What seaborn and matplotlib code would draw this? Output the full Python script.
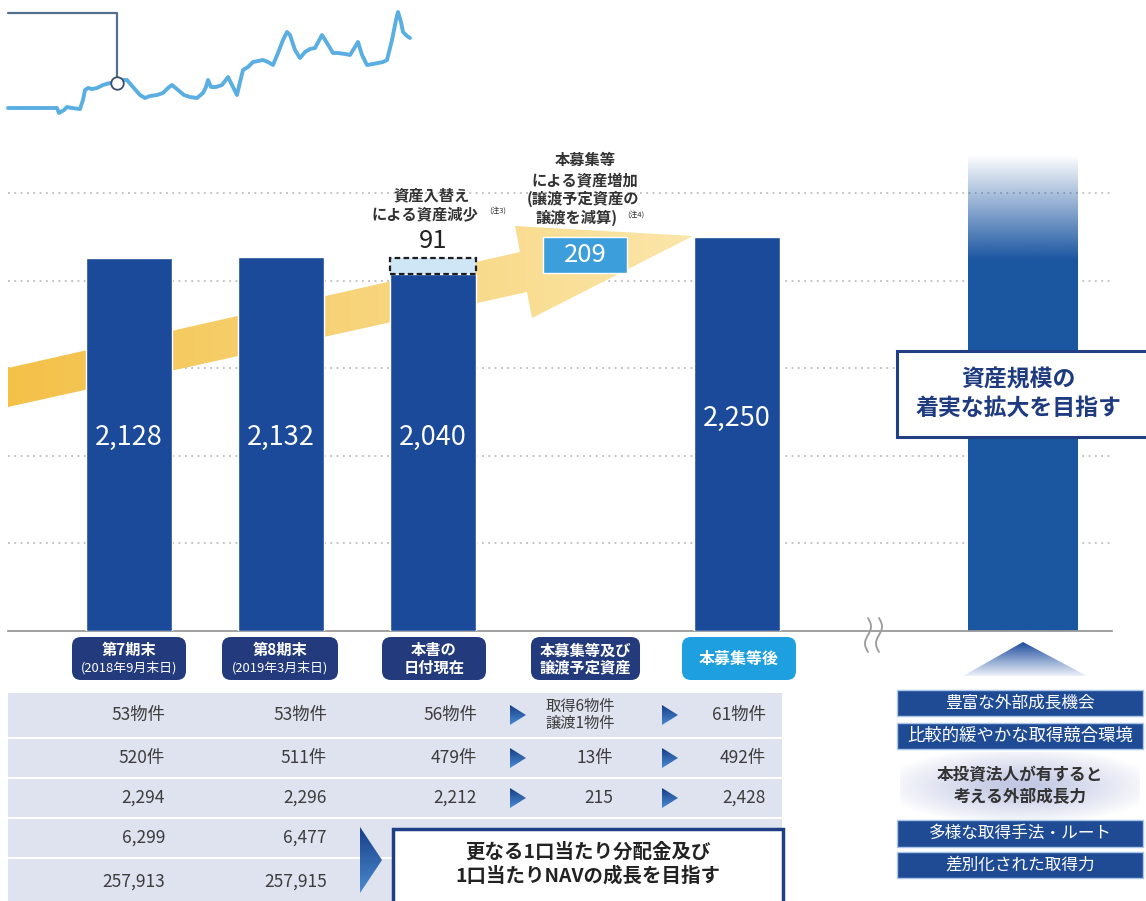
import numpy as np
import pandas as pd
import matplotlib
matplotlib.use("Agg")
import matplotlib.pyplot as plt
import matplotlib.colors as mcolors
from matplotlib.patches import FancyBboxPatch, Polygon, Rectangle
import seaborn as sns

sns.set_theme(style="white")
plt.rcParams["font.family"] = ["Noto Sans CJK JP", "DejaVu Sans"]

# ---- values ----
periods = ["第7期末", "第8期末", "本書の日付現在", "本募集等及び譲渡予定資産", "本募集等後"]
asset_size = [2128, 2132, 2040, np.nan, 2250]
asset_labels = ["2,128", "2,132", "2,040", "", "2,250"]
swap_decrease = 91
offering_increase = 209
target_level = 2720          # faded goal bar on the right (no value given)
grid_levels = [500, 1000, 1500, 2000, 2500]

box_titles = ["第7期末", "第8期末", "本書の\n日付現在", "本募集等及び\n譲渡予定資産", "本募集等後"]
box_dates = ["(2018年9月末日)", "(2019年3月末日)", "", "", ""]

row_properties = ["53物件", "53物件", "56物件", "取得6物件\n譲渡1物件", "61物件"]
row_tenants = ["520件", "511件", "479件", "13件", "492件"]
row_third = ["2,294", "2,296", "2,212", "215", "2,428"]
row_fourth = ["6,299", "6,477"]
row_fifth = ["257,913", "257,915"]

growth_items = ["豊富な外部成長機会", "比較的緩やかな取得競合環境",
                "本投資法人が有すると\n考える外部成長力",
                "多様な取得手法・ルート", "差別化された取得力"]

# unit price line at top left
price_day = [8, 57, 59, 64, 67, 72, 80, 83, 85, 88, 92, 97, 103, 110, 116, 122, 127, 133, 140, 145,
             150, 157, 163, 168, 172, 178, 184, 190, 197, 203, 206, 208, 211, 216, 222, 228, 232, 237, 240, 243,
             248, 253, 258, 263, 268, 273, 278, 283, 287, 290, 295, 300, 305, 310, 315, 322, 327, 333, 338, 345,
             350, 355, 358, 362, 367, 373, 378, 383, 387, 392, 396, 398, 401, 403, 407, 410]
price_level = [12, 12, 7, 10, 13, 12, 11, 20, 30, 32, 31, 32, 35, 37, 37, 40, 40, 33, 25, 22,
               24, 25, 27, 32, 35, 30, 25, 23, 22, 27, 33, 40, 33, 33, 35, 43, 35, 25, 38, 50,
               53, 58, 59, 60, 58, 55, 67, 80, 88, 85, 70, 62, 68, 71, 72, 85, 77, 67, 67, 66,
               65, 73, 78, 65, 55, 56, 57, 58, 60, 80, 100, 108, 98, 88, 84, 82]

bar_color = "#1a4a99"
navy = "#233b7c"
W, H = 1146, 901
SCALE = 0.1752      # px per unit
STEP = 152          # px per category
X0 = 129


def dx(px):
    return (px - X0) / STEP


def dy(py):
    return (631 - py) / SCALE


def rect_px(x0, y0, x1, y1):
    return [x0 / W, 1 - y1 / H, (x1 - x0) / W, (y1 - y0) / H]


def gradient_patch(axis, verts, colors, horizontal=False, zorder=2):
    poly = Polygon(verts, closed=True, fc="none", ec="none")
    axis.add_patch(poly)
    xs = [v[0] for v in verts]
    ys = [v[1] for v in verts]
    t = np.linspace(0, 1, 256)
    c0 = np.array(mcolors.to_rgba(colors[0]))
    c1 = np.array(mcolors.to_rgba(colors[1]))
    ramp = c0 + (c1 - c0) * t[:, None]
    img = ramp[None, :, :] if horizontal else ramp[:, None, :]
    if axis.yaxis_inverted():
        ext = [min(xs), max(xs), max(ys), min(ys)]
    else:
        ext = [min(xs), max(xs), min(ys), max(ys)]
    im = axis.imshow(img, extent=ext, origin="upper", aspect="auto",
                     interpolation="bilinear", zorder=zorder)
    im.set_clip_path(poly)
    return im


fig = plt.figure(figsize=(W / 100, H / 100), dpi=100)
fig.patch.set_facecolor("white")

# background axes: grid, yellow arrow, goal bar
ax_bg = fig.add_axes(rect_px(8, 140, 1112, 631), zorder=0)
ax_bg.set_facecolor("none")
ax_bg.set_yticks(grid_levels)
ax_bg.grid(axis="y", color="#bdbdbd", linestyle=(0, (1, 2.5)), linewidth=1.3)
ax_bg.set_axisbelow(True)
ax_bg.tick_params(left=False, bottom=False, labelleft=False, labelbottom=False)
for s in ["top", "left", "right"]:
    ax_bg.spines[s].set_visible(False)
ax_bg.spines["bottom"].set_color("#9a9a9a")
ax_bg.spines["bottom"].set_linewidth(1.3)

arrow_px = [(8, 368), (520, 252), (515, 226), (693, 236), (532, 318), (527, 292), (8, 407)]
gradient_patch(ax_bg, [(dx(x), dy(y)) for x, y in arrow_px], ["#f4c148", "#fbe6aa"],
               horizontal=True, zorder=1)

# goal bar with faded top
gx0, gx1 = dx(968), dx(1078)
goal_poly = Polygon([(gx0, 0), (gx1, 0), (gx1, target_level), (gx0, target_level)],
                    closed=True, fc="none", ec="none")
ax_bg.add_patch(goal_poly)
t = np.linspace(0, 1, 300)
alpha = np.clip(t / 0.22, 0, 1)
goal_img = np.zeros((300, 1, 4))
goal_img[:, 0, :3] = mcolors.to_rgb("#1b56a1")
goal_img[:, 0, 3] = alpha
im = ax_bg.imshow(goal_img, extent=[gx0, gx1, 0, target_level], origin="upper",
                  aspect="auto", interpolation="bilinear", zorder=2)
im.set_clip_path(goal_poly)
ax_bg.set_xlim(dx(8), dx(1112))
ax_bg.set_ylim(0, dy(140))

# bar axes
ax = fig.add_axes(rect_px(8, 140, 1112, 631), zorder=1)
ax.set_facecolor("none")
df = pd.DataFrame({"period": periods, "asset": asset_size})
sns.barplot(data=df, x="period", y="asset", order=periods, color=bar_color,
            saturation=1, width=0.56, errorbar=None, ax=ax, zorder=3)
ax.bar(periods[2], swap_decrease, bottom=asset_size[2], width=0.57, color="#cfe6f7",
       edgecolor="#1d1d1d", linestyle=(0, (2.5, 1.5)), linewidth=1.6, zorder=4)
ax.bar(periods[3], offering_increase, bottom=asset_size[4] - offering_increase,
       width=0.55, color="#3c9edb", zorder=4)
ax.set_xlim(dx(8), dx(1112))
ax.set_ylim(0, dy(140))
ax.set_xlabel("")
ax.set_ylabel("")
ax.tick_params(left=False, bottom=False, labelleft=False, labelbottom=False)
for s in ax.spines.values():
    s.set_visible(False)
ax.grid(False)

label_y = [1107, 1107, 1107, None, 1216]
for i, (v, lab) in enumerate(zip(asset_size, asset_labels)):
    if lab:
        ax.text(i, label_y[i], lab, ha="center", va="center", color="white",
                fontsize=19.5, zorder=6)
ax.text(2, asset_size[2] + swap_decrease + 95, str(swap_decrease), ha="center",
        va="center", fontsize=18.5, color="#222222")
ax.text(3, asset_size[4] - offering_increase / 2, str(offering_increase), ha="center",
        va="center", fontsize=18.5, color="white", zorder=6)

# foreground decoration in pixel coords
fg = fig.add_axes([0, 0, 1, 1], zorder=2)
fg.set_facecolor("none")
fg.set_xlim(0, W)
fg.set_ylim(H, 0)
fg.axis("off")

# annotations above bars
txt = dict(ha="center", va="center", fontsize=11, color="#333333", fontweight="bold")
fg.text(432, 195, "資産入替え", **txt)
fg.text(425, 214, "による資産減少", **txt)
fg.text(498, 211, "(注3)", ha="center", va="center", fontsize=5.5, color="#333333")
fg.text(585, 160, "本募集等", **txt)
fg.text(585, 180, "による資産増加", **txt)
fg.text(583, 199, "(譲渡予定資産の", **txt)
fg.text(576, 218, "譲渡を減算)", **txt)
fg.text(636, 215, "(注4)", ha="center", va="center", fontsize=5.5, color="#333333")

# break mark on the baseline
tt = np.linspace(0, 1, 50)
for xc in [868, 879]:
    fg.plot(xc + 3 * np.sin(2 * np.pi * tt), 618 + 34 * tt, color="#9a9a9a", lw=1.3)

# category boxes
box_x = [(72, 186), (222, 338), (382, 486), (531, 640), (682, 796)]
for i, ((x0, x1), title, date) in enumerate(zip(box_x, box_titles, box_dates)):
    fc = "#1e9fe0" if i == 4 else navy
    fg.add_patch(FancyBboxPatch((x0, 637), x1 - x0, 43, boxstyle="round,pad=0,rounding_size=9",
                                fc=fc, ec="none"))
    xc = (x0 + x1) / 2
    if date:
        fg.text(xc, 650, title, ha="center", va="center", color="white", fontsize=11,
                fontweight="bold")
        fg.text(xc, 668, date, ha="center", va="center", color="white", fontsize=9.3)
    else:
        fg.text(xc, 659, title, ha="center", va="center", color="white",
                fontsize=11.5 if i == 4 else 11, fontweight="bold", linespacing=1.1)

# table
rows = [(693, 737), (739, 777), (779, 817), (819, 857), (859, 905)]
for y0, y1 in rows:
    fg.add_patch(Rectangle((8, y0), 774, y1 - y0, fc="#dfe3f0", ec="none"))
col_right = [165, 327, 477, 613, 766]
table_rows = [row_properties, row_tenants, row_third, row_fourth, row_fifth]
for (y0, y1), vals in zip(rows, table_rows):
    yc = (y0 + y1) / 2
    for xr, v in zip(col_right, vals):
        if "\n" in v:
            fg.text(xr + 2, yc, v, ha="right", va="center", fontsize=11, color="#3d3d3d",
                    linespacing=0.95, multialignment="left")
        else:
            fg.text(xr, yc, v, ha="right", va="center", fontsize=12.5, color="#3d3d3d")
for y0, y1 in rows[:3]:
    yc = (y0 + y1) / 2
    for ax0 in [510, 662]:
        gradient_patch(fg, [(ax0, yc - 10), (ax0 + 16, yc), (ax0, yc + 10)],
                       ["#173f88", "#4a8bd0"], zorder=3)
gradient_patch(fg, [(360, 827), (382, 860), (360, 893)], ["#173f88", "#4a8bd0"], zorder=3)

fg.add_patch(Rectangle((393, 829), 390, 90, fc="white", ec="#1f3f85", lw=2.5, zorder=4))
fg.text(588, 864, "更なる1口当たり分配金及び\n1口当たりNAVの成長を目指す", ha="center",
        va="center", fontsize=14, fontweight="bold", color="#222222", linespacing=1.3,
        zorder=5)

# right side
fg.add_patch(Rectangle((897, 351), 260, 86, fc="white", ec="#223f86", lw=2.2, zorder=4))
fg.text(1018, 394, "資産規模の\n着実な拡大を目指す", ha="center", va="center", fontsize=16.5,
        fontweight="bold", color="#1f3b7f", linespacing=1.25, zorder=5)

gradient_patch(fg, [(1023, 642), (963, 676), (1087, 676)], ["#1d4c9e", "#eef2fa"], zorder=3)

# glow behind the middle item
gy, gx = np.mgrid[-1:1:120j, -1:1:300j]
r = np.sqrt(gx ** 2 + gy ** 2)
glow = np.zeros((120, 300, 4))
glow[..., :3] = mcolors.to_rgb("#c3c9e4")
glow[..., 3] = np.clip(1.15 - r, 0, 1) ** 0.9
fg.imshow(glow, extent=[900, 1140, 820, 752], origin="upper", aspect="auto",
          interpolation="bilinear", zorder=2)

item_y = [(690, 716), (723, 749), None, (820, 847), (852, 878)]
item_size = [12, 12.5, 12, 12, 12]
for yy, item, fs in zip(item_y, growth_items, item_size):
    if yy is None:
        fg.text(1020, 786, item, ha="center", va="center", fontsize=fs, fontweight="bold",
                color="#333333", linespacing=1.25, zorder=5)
        continue
    fg.add_patch(Rectangle((897, yy[0]), 246, yy[1] - yy[0], fc="#1f4b95", ec="#a9c6ea",
                           lw=1, zorder=4))
    fg.text(1020, (yy[0] + yy[1]) / 2, item, ha="center", va="center", fontsize=fs,
            color="white", zorder=5)
fg.set_xlim(0, W)
fg.set_ylim(H, 0)

# unit price line
ax_st = fig.add_axes(rect_px(0, 0, 420, 120), zorder=3)
ax_st.set_facecolor("none")
sns.lineplot(x=price_day, y=price_level, color="#5aaee2", linewidth=2.8, ax=ax_st)
ax_st.plot([8, price_day[14] + 1, price_day[14] + 1], [107, 107, price_level[14] + 6],
           color="#54708f", lw=1.6)
ax_st.plot(price_day[14] + 1, price_level[14], "o", ms=9, mfc="white", mec="#3c4f6e", mew=1.3)
ax_st.set_xlim(0, 420)
ax_st.set_ylim(0, 120)
ax_st.axis("off")

fig.savefig("out.png", dpi=100, facecolor="white")
